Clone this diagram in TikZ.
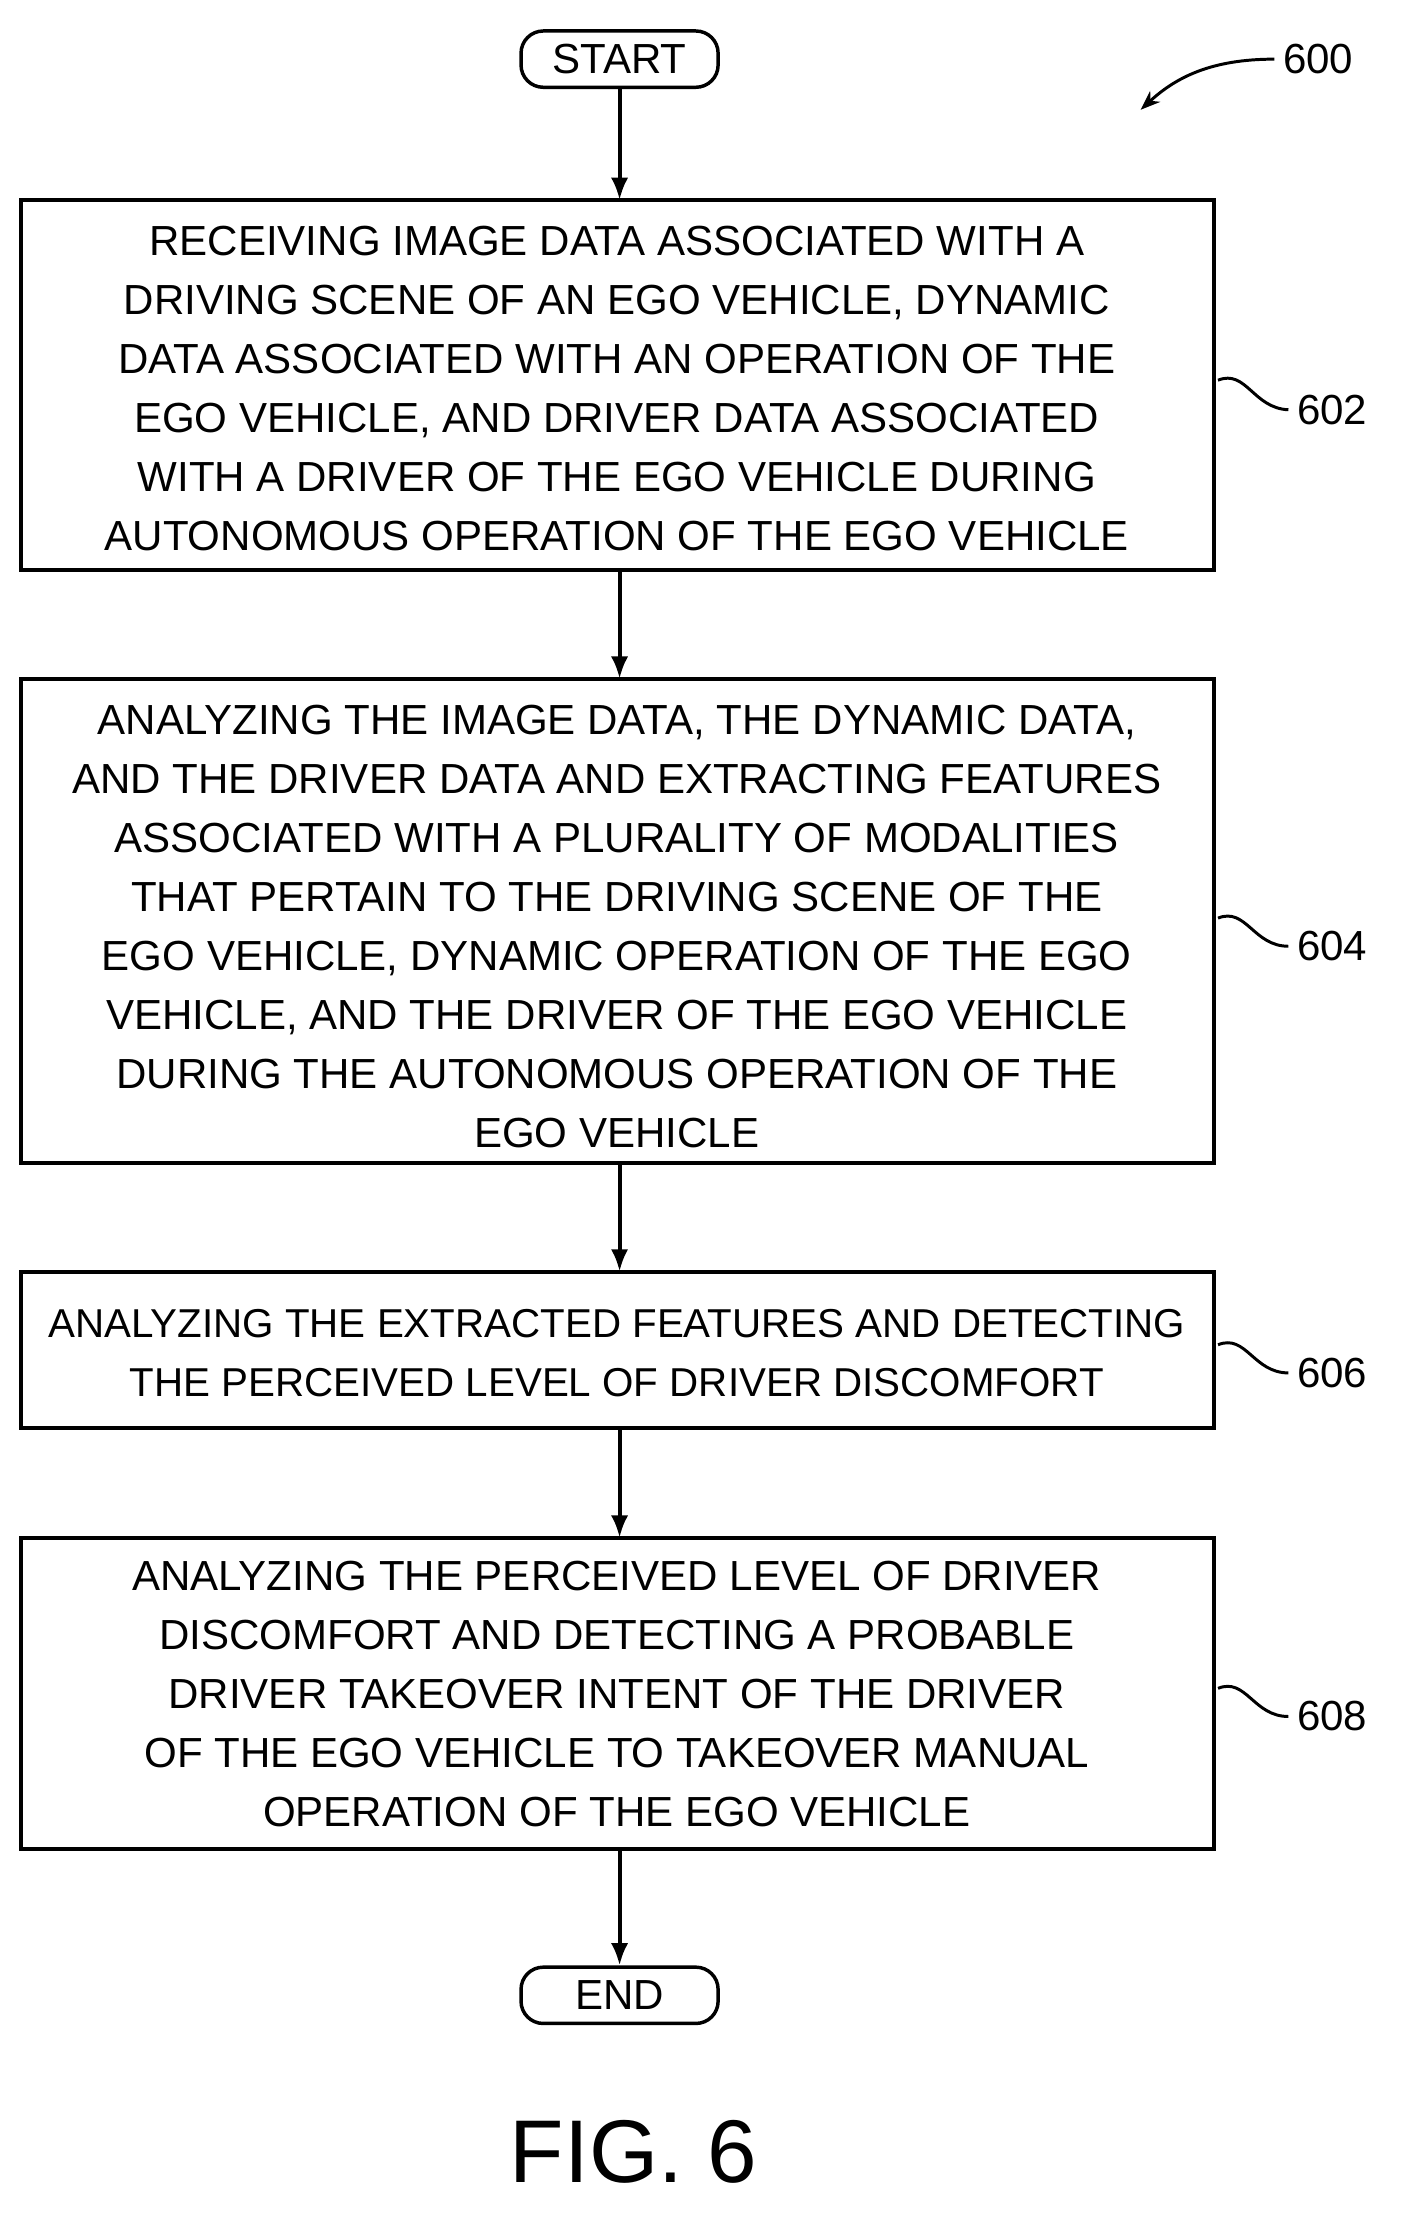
\documentclass[tikz,border=0pt]{standalone}
\usepackage{fontspec}
\setmainfont{Liberation Sans}
\usetikzlibrary{arrows.meta}
\begin{document}
\begin{tikzpicture}[x=0.02cm,y=-0.02cm,
  box/.style={draw,line width=1.6pt,inner sep=0pt},
  txt/.style={align=center,font=\fontsize{17}{23.8}\selectfont},
  term/.style={draw,line width=1.4pt,rounded corners=9pt,minimum width=2.8cm,minimum height=0.8cm,font=\fontsize{17}{20}\selectfont},
  arr/.style={line width=1.6pt,-{Latex[length=9pt,width=7pt]}},
  lbl/.style={font=\fontsize{17}{20}\selectfont,anchor=west}]
\useasboundingbox (0,0) rectangle (1000,1578);
\node[term] (start) at (440,42) {START};
\node[term] (end) at (440,1417) {END};
\draw[box] (15,142) rectangle (862,405); \coordinate (b1t) at (440,142); \coordinate (b1b) at (440,405);
\draw[box] (15,482) rectangle (862,826); \coordinate (b2t) at (440,482); \coordinate (b2b) at (440,826);
\draw[box] (15,903) rectangle (862,1014); \coordinate (b3t) at (440,903); \coordinate (b3b) at (440,1014);
\draw[box] (15,1092) rectangle (862,1313); \coordinate (b4t) at (440,1092); \coordinate (b4b) at (440,1313);
\node[txt] (t1) at (438,276) {RECEIVING IMAGE DATA ASSOCIATED WITH A\\DRIVING SCENE OF AN EGO VEHICLE, DYNAMIC\\DATA ASSOCIATED WITH AN OPERATION OF THE\\EGO VEHICLE, AND DRIVER DATA ASSOCIATED\\WITH A DRIVER OF THE EGO VEHICLE DURING\\AUTONOMOUS OPERATION OF THE EGO VEHICLE};
\node[txt] (t2) at (438,658) {ANALYZING THE IMAGE DATA, THE DYNAMIC DATA,\\AND THE DRIVER DATA AND EXTRACTING FEATURES\\ASSOCIATED WITH A PLURALITY OF MODALITIES\\THAT PERTAIN TO THE DRIVING SCENE OF THE\\EGO VEHICLE, DYNAMIC OPERATION OF THE EGO\\VEHICLE, AND THE DRIVER OF THE EGO VEHICLE\\DURING THE AUTONOMOUS OPERATION OF THE\\EGO VEHICLE};
\node[txt,font=\fontsize{16.3}{23.8}\selectfont] (t3) at (438,961) {ANALYZING THE EXTRACTED FEATURES AND DETECTING\\THE PERCEIVED LEVEL OF DRIVER DISCOMFORT};
\node[txt] (t4) at (438,1203) {ANALYZING THE PERCEIVED LEVEL OF DRIVER\\DISCOMFORT AND DETECTING A PROBABLE\\DRIVER TAKEOVER INTENT OF THE DRIVER\\OF THE EGO VEHICLE TO TAKEOVER MANUAL\\OPERATION OF THE EGO VEHICLE};
\draw[arr] (start) -- (b1t);
\draw[arr] (b1b) -- (b2t);
\draw[arr] (b2b) -- (b3t);
\draw[arr] (b3b) -- (b4t);
\draw[arr] (b4b) -- (end);
\node[lbl] (l600) at (905,42) {600};
\node[lbl] (l602) at (915,291) {602};
\node[lbl] (l604) at (915,672) {604};
\node[lbl] (l606) at (915,975) {606};
\node[lbl] (l608) at (915,1219) {608};
\draw[line width=1.2pt,-{Stealth[length=8pt]}] (l600.west) .. controls (860,42) and (835,55) .. (810,78);
\foreach \n/\y in {602/270,604/652,606/955,608/1199}{
  \draw[line width=1.2pt] (865,\y) .. controls (885,\y-8) and (890,\y+20) .. (l\n.west);
}
\node[font=\fontsize{36}{40}\selectfont] (fig) at (450,1528) {FIG. 6};
\end{tikzpicture}
\end{document}
